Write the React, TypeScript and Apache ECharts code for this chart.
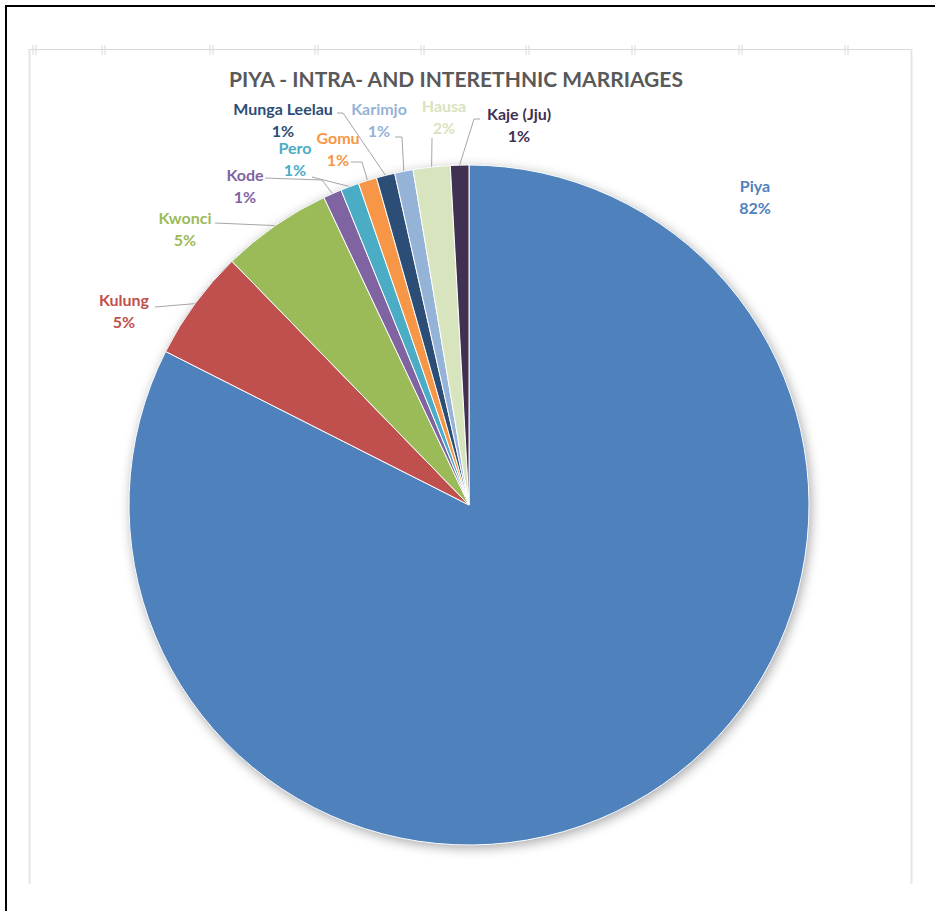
import React, { useEffect, useRef } from 'react';
import * as echarts from 'echarts';

const chartTitle = 'PIYA - INTRA- AND INTERETHNIC MARRIAGES';
const categories = ['Piya', 'Kulung', 'Kwonci', 'Kode', 'Pero', 'Gomu', 'Munga Leelau', 'Karimjo', 'Hausa', 'Kaje (Jju)'];
const marriages = [94, 6, 6, 1, 1, 1, 1, 1, 2, 1];
const sliceColors = ['#4F81BD', '#C0504D', '#9BBB59', '#8064A2', '#4BACC6', '#F79646', '#2C4D75', '#95B3D7', '#D7E4BD', '#403152'];

// label anchor (centre of the two-line label) and leader-line bends (after the slice edge point)
const labelSpots: Record<string, { x: number; y: number; line: number[][] | null }> = {
  'Piya': { x: 755, y: 196, line: null },
  'Kulung': { x: 124, y: 310, line: [[155, 307]] },
  'Kwonci': { x: 185, y: 228, line: [[215, 223]] },
  'Kode': { x: 245, y: 185, line: [[322, 180], [265, 178]] },
  'Pero': { x: 295, y: 158, line: [[312, 177]] },
  'Gomu': { x: 338, y: 148, line: [[362, 162], [351, 162]] },
  'Munga Leelau': { x: 283, y: 119, line: [[343, 113], [337, 113]] },
  'Karimjo': { x: 379, y: 119, line: [[402, 137], [395, 137]] },
  'Hausa': { x: 444, y: 116, line: [[432, 138]] },
  'Kaje (Jju)': { x: 519, y: 124, line: [[474, 119], [480, 119]] },
};

const rulerTicks = [33, 102, 210, 315, 421, 526, 632, 739, 845];

export default function App() {
  const ref = useRef<HTMLDivElement>(null);
  useEffect(() => {
    if (!ref.current) return;
    const chart = echarts.init(ref.current, null, { renderer: 'svg' });
    const font = 'Lato, "Open Sans", sans-serif';

    const frameColor = '#D9D9D9';
    const graphics: any[] = [
      { type: 'rect', shape: { x: 0, y: 0, width: 935, height: 911 }, style: { fill: '#fff' }, z: -10, silent: true },
      { type: 'line', shape: { x1: 5, y1: 6, x2: 935, y2: 6 }, style: { stroke: '#000', lineWidth: 2 }, silent: true },
      { type: 'line', shape: { x1: 6, y1: 5, x2: 6, y2: 911 }, style: { stroke: '#000', lineWidth: 2 }, silent: true },
      { type: 'line', shape: { x1: 28, y1: 49.5, x2: 912, y2: 49.5 }, style: { stroke: frameColor, lineWidth: 1 }, silent: true },
      { type: 'line', shape: { x1: 29.5, y1: 49, x2: 29.5, y2: 884 }, style: { stroke: '#E6E6E6', lineWidth: 2 }, silent: true },
      { type: 'line', shape: { x1: 911.5, y1: 49, x2: 911.5, y2: 884 }, style: { stroke: '#E6E6E6', lineWidth: 2 }, silent: true },
    ];
    rulerTicks.forEach((t) => {
      graphics.push({ type: 'line', shape: { x1: t, y1: 45, x2: t, y2: 55 }, style: { stroke: frameColor, lineWidth: 1 }, silent: true });
      graphics.push({ type: 'line', shape: { x1: t + 3, y1: 45, x2: t + 3, y2: 55 }, style: { stroke: frameColor, lineWidth: 1 }, silent: true });
    });

    const data = categories.map((name, i) => ({
      name,
      value: marriages[i],
      itemStyle: { color: sliceColors[i] },
      label: { color: sliceColors[i] },
      labelLine: { show: labelSpots[name].line !== null },
    }));

    chart.setOption({
      animation: false,
      backgroundColor: '#fff',
      title: {
        text: chartTitle,
        left: 451,
        top: 63,
        textAlign: 'center',
        textStyle: { fontFamily: font, fontWeight: 'bold', fontSize: 21, color: '#595959' },
      },
      graphic: graphics,
      series: [
        {
          type: 'pie',
          silent: true,
          center: [469, 505],
          radius: 340,
          startAngle: 90,
          z: 1,
          label: { show: false },
          labelLine: { show: false },
          itemStyle: {
            color: '#4F81BD',
            shadowBlur: 12,
            shadowColor: 'rgba(0,0,0,0.35)',
            shadowOffsetX: 2,
            shadowOffsetY: 3,
          },
          data: [{ name: 'shadow', value: 1 }],
        },
        {
          type: 'pie',
          center: [469, 505],
          radius: 340,
          startAngle: 90,
          clockwise: true,
          z: 2,
          itemStyle: { borderColor: '#ffffff', borderWidth: 1 },
          label: {
            show: true,
            position: 'outside',
            fontFamily: font,
            fontWeight: 'bold',
            fontSize: 16,
            lineHeight: 22,
            align: 'center',
            formatter: (p: any) => `${p.name}\n${Math.round(p.percent)}%`,
          },
          labelLine: { show: true, lineStyle: { color: '#A6A6A6', width: 1 } },
          labelLayout: (p: any) => {
            const name = categories[p.dataIndex];
            const spot = labelSpots[name];
            const res: any = { x: spot.x, y: spot.y, align: 'center', verticalAlign: 'middle' };
            if (spot.line && p.labelLinePoints && p.labelLinePoints.length) {
              res.labelLinePoints = [p.labelLinePoints[0], ...spot.line];
            }
            return res;
          },
          data,
        },
      ],
    });
    return () => chart.dispose();
  }, []);
  return (
    <div
      ref={ref}
      style={{ position: 'fixed', left: 0, top: 0, width: 935, height: 911 }}
    />
  );
}
